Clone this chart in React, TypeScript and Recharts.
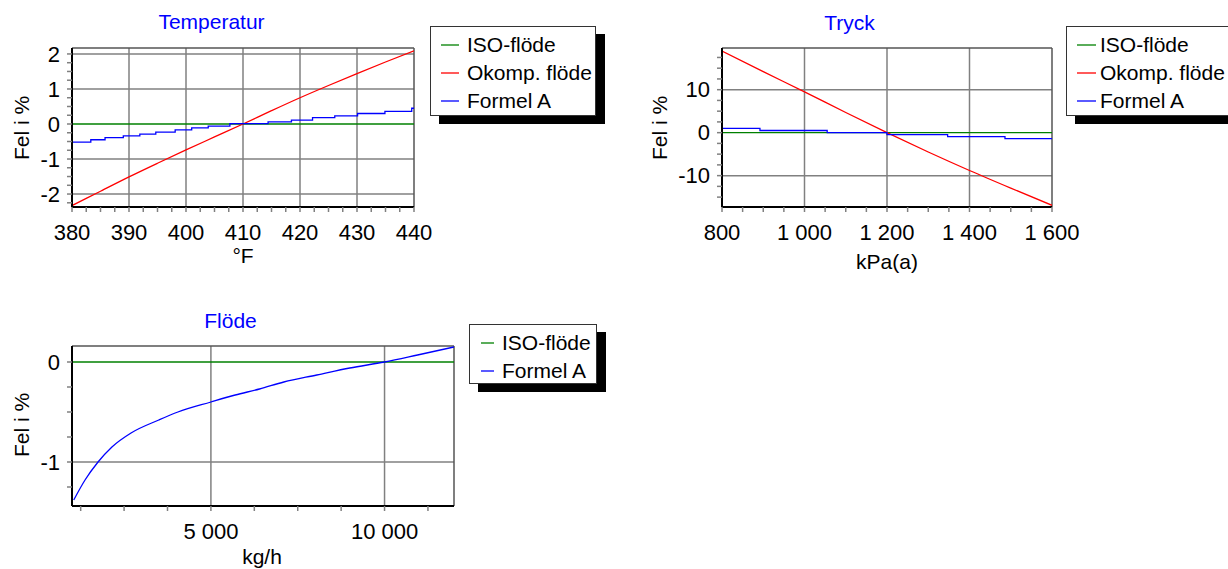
import React from 'react';
import { LineChart, Line, XAxis, YAxis, ReferenceLine } from 'recharts';

const FONT = '"Liberation Sans", Arial, Helvetica, sans-serif';
const GREEN = '#008000';
const RED = '#ff0000';
const BLUE = '#0000ff';
const GRID = '#808080';

// ---------- Temperatur ----------
const tempXDomain = [380, 440];
const tempYDomain = [-2.37, 2.17];
const tempXTicks = [380, 382.5, 385, 387.5, 390, 392.5, 395, 397.5, 400, 402.5, 405, 407.5, 410, 412.5, 415, 417.5, 420, 422.5, 425, 427.5, 430, 432.5, 435, 437.5, 440];
const tempXLabels = [380, 390, 400, 410, 420, 430, 440];
const tempYTicks = [-2.25, -2, -1.75, -1.5, -1.25, -1, -0.75, -0.5, -0.25, 0, 0.25, 0.5, 0.75, 1, 1.25, 1.5, 1.75, 2];
const tempYLabels = [-2, -1, 0, 1, 2];
const tempXGrid = [390, 400, 410, 420, 430];
const tempYGrid = [-2, -1, 1, 2];
const tempIsoX = [380, 440];
const tempIsoY = [0, 0];
const tempRedX = [380, 385, 390, 395, 400, 405, 410, 415, 420, 425, 430, 435, 440];
const tempRedY = [-2.33, -1.92, -1.51, -1.12, -0.74, -0.37, 0, 0.38, 0.75, 1.1, 1.44, 1.77, 2.09];
const tempBlueX = [380, 383.3, 385.8, 389, 391.9, 394.7, 398.1, 401, 403.9, 407.7, 414.4, 418.5, 422.2, 426.1, 430.1, 434.9, 439.6, 440];
const tempBlueY = [-0.52, -0.45, -0.39, -0.34, -0.29, -0.23, -0.17, -0.11, -0.06, 0.01, 0.06, 0.11, 0.18, 0.23, 0.3, 0.36, 0.45, 0.45];

// ---------- Tryck ----------
const tryXDomain = [800, 1600];
const tryYDomain = [-17.3, 19.7];
const tryXTicks = [800, 850, 900, 950, 1000, 1050, 1100, 1150, 1200, 1250, 1300, 1350, 1400, 1450, 1500, 1550, 1600];
const tryXLabels = [800, 1000, 1200, 1400, 1600];
const tryYTicks = [-15, -12.5, -10, -7.5, -5, -2.5, 0, 2.5, 5, 7.5, 10, 12.5, 15, 17.5];
const tryYLabels = [-10, 0, 10];
const tryXGrid = [1000, 1200, 1400];
const tryYGrid = [-10, 10];
const tryIsoX = [800, 1600];
const tryIsoY = [0, 0];
const tryRedX = [800, 900, 1000, 1100, 1200, 1300, 1400, 1500, 1600];
const tryRedY = [19.0, 14.2, 9.5, 4.7, 0, -4.5, -8.8, -12.9, -16.9];
const tryBlueX = [800, 892, 1055, 1200, 1347, 1486, 1600];
const tryBlueY = [1.0, 0.5, 0, -0.47, -0.93, -1.4, -1.4];

// ---------- Flöde ----------
const flowXDomain = [1000, 12000];
const flowYDomain = [-1.44, 0.16];
const flowXTicks = [1250, 2500, 3750, 5000, 6250, 7500, 8750, 10000, 11250];
const flowXLabels = [5000, 10000];
const flowYTicks = [-1.25, -1, -0.75, -0.5, -0.25, 0];
const flowYLabels = [-1, 0];
const flowXGrid = [5000, 10000];
const flowYGrid = [-1];
const flowIsoX = [1000, 12000];
const flowIsoY = [0, 0];
const flowBlueX = [1050, 1375, 1750, 2150, 2700, 3500, 4050, 5000, 5700, 6400, 7100, 8050, 9000, 10000, 10950, 12000];
const flowBlueY = [-1.38, -1.18, -1.0, -0.85, -0.71, -0.58, -0.5, -0.4, -0.33, -0.27, -0.2, -0.13, -0.06, 0, 0.07, 0.15];

type Pt = { x: number; y: number };
const pts = (xs: number[], ys: number[]): Pt[] => xs.map((x, i) => ({ x, y: ys[i] }));

const fmt = (labels: number[]) => (v: number) => {
  if (!labels.includes(v)) return '';
  const s = String(Math.abs(v)).replace(/\B(?=(\d{3})+(?!\d))/g, ' ');
  return (v < 0 ? '-' : '') + s;
};

type Series = { name: string; color: string; xs: number[]; ys: number[]; step?: boolean; smooth?: boolean };

type PanelProps = {
  left: number; top: number; width: number; height: number;
  margin: { top: number; right: number; bottom: number; left: number };
  xDomain: number[]; yDomain: number[];
  xTicks: number[]; xLabels: number[]; yTicks: number[]; yLabels: number[];
  xGrid: number[]; yGrid: number[];
  series: Series[];
};

const tickStyle = { fill: '#000', fontSize: 22, fontFamily: FONT };

function Panel(p: PanelProps) {
  return (
    <div style={{ position: 'absolute', left: p.left, top: p.top }}>
      <LineChart width={p.width} height={p.height} margin={p.margin}>
        <XAxis
          dataKey="x" type="number" domain={p.xDomain} ticks={p.xTicks} allowDataOverflow
          tickFormatter={fmt(p.xLabels)} tick={tickStyle} tickSize={5} tickMargin={12} height={30}
          axisLine={{ stroke: '#000', strokeWidth: 2 }} tickLine={{ stroke: GRID, strokeWidth: 1.5 }} interval={0}
        />
        <YAxis
          dataKey="y" type="number" domain={p.yDomain} ticks={p.yTicks} allowDataOverflow
          tickFormatter={fmt(p.yLabels)} tick={tickStyle} tickSize={5} tickMargin={7} width={60}
          axisLine={{ stroke: '#000', strokeWidth: 2 }} tickLine={{ stroke: GRID, strokeWidth: 1.5 }} interval={0}
        />
        {p.xGrid.map((v) => (
          <ReferenceLine key={'gx' + v} x={v} stroke={GRID} strokeWidth={1.5} />
        ))}
        {p.yGrid.map((v) => (
          <ReferenceLine key={'gy' + v} y={v} stroke={GRID} strokeWidth={1.5} />
        ))}
        <ReferenceLine y={p.yDomain[1]} stroke="#555" strokeWidth={1.5} />
        <ReferenceLine x={p.xDomain[1]} stroke="#555" strokeWidth={1.5} />
        {p.series.map((s) => (
          <Line
            key={s.name} data={pts(s.xs, s.ys)} dataKey="y" name={s.name}
            type={s.step ? 'stepAfter' : s.smooth ? 'monotone' : 'linear'}
            stroke={s.color} strokeWidth={1.3} dot={false} isAnimationActive={false}
          />
        ))}
      </LineChart>
    </div>
  );
}

type LegendProps = { left: number; top: number; width: number; height: number; sampleX: number; sampleW: number; textX: number; firstY: number; rowH: number; series: Series[] };

function LegendBox(l: LegendProps) {
  return (
    <div style={{
      position: 'absolute', left: l.left, top: l.top, width: l.width, height: l.height, boxSizing: 'border-box',
      border: '1px solid #333', background: '#fff', boxShadow: '9px 8px 0 0 #000', fontFamily: FONT, fontSize: 21,
    }}>
      {l.series.map((s, i) => {
        const cy = Math.round(l.firstY + i * l.rowH);
        return (
          <div key={s.name} style={{ position: 'absolute', left: 0, top: cy - 13, height: 26, width: 400 }}>
            <svg style={{ position: 'absolute', left: l.sampleX, top: 12, overflow: 'visible' }} width={l.sampleW} height={2}>
              <line x1={0} y1={1} x2={l.sampleW} y2={1} stroke={s.color} strokeWidth={1.3} />
            </svg>
            <div style={{ position: 'absolute', left: l.textX, top: 0, lineHeight: '26px', whiteSpace: 'nowrap', color: '#000' }}>{s.name}</div>
          </div>
        );
      })}
    </div>
  );
}

function Title({ text, cx, cy }: { text: string; cx: number; cy: number }) {
  return (
    <div style={{ position: 'absolute', left: cx - 150, top: cy - 13, width: 300, textAlign: 'center', lineHeight: '26px', fontFamily: FONT, fontSize: 21, color: BLUE }}>{text}</div>
  );
}

function AxisLabel({ text, cx, cy, rotate }: { text: string; cx: number; cy: number; rotate?: boolean }) {
  return (
    <div style={{ position: 'absolute', left: cx - 100, top: cy - 13, width: 200, textAlign: 'center', lineHeight: '26px', fontFamily: FONT, fontSize: 21, color: '#000', transform: rotate ? 'rotate(-90deg)' : undefined }}>{text}</div>
  );
}

const tempSeries: Series[] = [
  { name: 'ISO-flöde', color: GREEN, xs: tempIsoX, ys: tempIsoY },
  { name: 'Okomp. flöde', color: RED, xs: tempRedX, ys: tempRedY, smooth: true },
  { name: 'Formel A', color: BLUE, xs: tempBlueX, ys: tempBlueY, step: true },
];
const trySeries: Series[] = [
  { name: 'ISO-flöde', color: GREEN, xs: tryIsoX, ys: tryIsoY },
  { name: 'Okomp. flöde', color: RED, xs: tryRedX, ys: tryRedY, smooth: true },
  { name: 'Formel A', color: BLUE, xs: tryBlueX, ys: tryBlueY, step: true },
];
const flowSeries: Series[] = [
  { name: 'ISO-flöde', color: GREEN, xs: flowIsoX, ys: flowIsoY },
  { name: 'Formel A', color: BLUE, xs: flowBlueX, ys: flowBlueY, smooth: true },
];

export default function App() {
  return (
    <div style={{ position: 'absolute', left: 0, top: 0, width: 1228, height: 569, overflow: 'hidden', background: '#fff' }}>
      <Panel
        left={0} top={0} width={440} height={275}
        margin={{ top: 48, right: 26, bottom: 38, left: 12 }}
        xDomain={tempXDomain} yDomain={tempYDomain}
        xTicks={tempXTicks} xLabels={tempXLabels} yTicks={tempYTicks} yLabels={tempYLabels}
        xGrid={tempXGrid} yGrid={tempYGrid}
        series={tempSeries}
      />
      <Title text="Temperatur" cx={211.5} cy={22} />
      <AxisLabel text="°F" cx={243} cy={256} />
      <AxisLabel text="Fel i %" cx={21.5} cy={128} rotate />
      <LegendBox left={430} top={26} width={166} height={90} sampleX={10} sampleW={18} textX={36} firstY={17.5} rowH={28} series={tempSeries} />

      <Panel
        left={640} top={0} width={440} height={275}
        margin={{ top: 48, right: 28, bottom: 38, left: 22 }}
        xDomain={tryXDomain} yDomain={tryYDomain}
        xTicks={tryXTicks} xLabels={tryXLabels} yTicks={tryYTicks} yLabels={tryYLabels}
        xGrid={tryXGrid} yGrid={tryYGrid}
        series={trySeries}
      />
      <Title text="Tryck" cx={849.5} cy={23} />
      <AxisLabel text="kPa(a)" cx={887} cy={262} />
      <AxisLabel text="Fel i %" cx={660} cy={128} rotate />
      <LegendBox left={1066} top={26} width={175} height={90} sampleX={10} sampleW={19} textX={33} firstY={17.5} rowH={28} series={trySeries} />

      <Panel
        left={0} top={300} width={480} height={269}
        margin={{ top: 46, right: 26, bottom: 33, left: 12 }}
        xDomain={flowXDomain} yDomain={flowYDomain}
        xTicks={flowXTicks} xLabels={flowXLabels} yTicks={flowYTicks} yLabels={flowYLabels}
        xGrid={flowXGrid} yGrid={flowYGrid}
        series={flowSeries}
      />
      <Title text="Flöde" cx={230.5} cy={321} />
      <AxisLabel text="kg/h" cx={262} cy={557} />
      <AxisLabel text="Fel i %" cx={21.5} cy={425} rotate />
      <LegendBox left={469} top={324} width={128} height={60} sampleX={11} sampleW={13} textX={32} firstY={17.5} rowH={28.3} series={flowSeries} />
    </div>
  );
}
